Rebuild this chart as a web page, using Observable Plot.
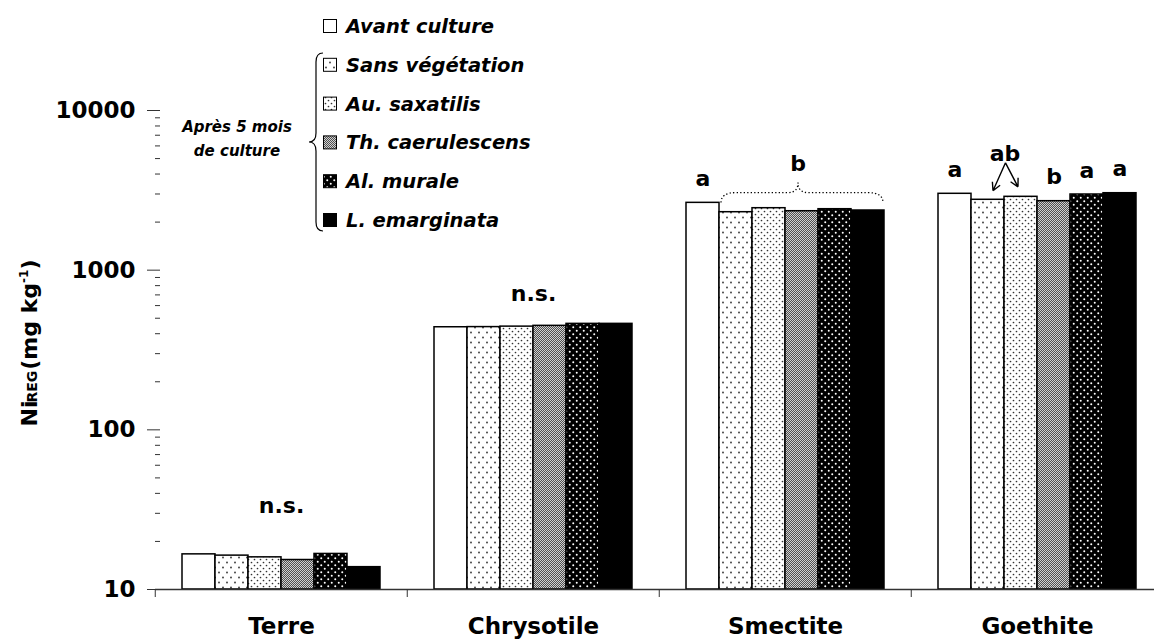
<!DOCTYPE html>
<html>
<head>
<meta charset="utf-8">
<script src="https://cdn.jsdelivr.net/npm/d3@7"></script>
<script src="https://cdn.jsdelivr.net/npm/@observablehq/plot@0.6"></script>
<style>
  html, body { margin: 0; padding: 0; background: #fff; }
  #wrap { position: relative; width: 1154px; height: 641px; }
  #wrap svg.overlay { position: absolute; left: 0; top: 0; pointer-events: none; }
</style>
</head>
<body>
<div id="wrap"></div>
<script>
// ---------------- data ----------------
const categories = ["Terre", "Chrysotile", "Smectite", "Goethite"];
const series = ["Avant culture", "Sans végétation", "Au. saxatilis", "Th. caerulescens", "Al. murale", "L. emarginata"];
const terre      = [16.6, 16.3, 15.9, 15.3, 16.7, 13.8];
const chrysotile = [439, 440, 443, 448, 461, 461];
const smectite   = [2640, 2307, 2444, 2340, 2409, 2364];
const goethite   = [3008, 2759, 2880, 2704, 2978, 3034];
const yMajorTicks = [10, 100, 1000, 10000];
const yLabelMain = "Ni", yLabelSub = "REG", yLabelUnit = "(mg kg", yLabelExp = "-1";
const legendGroupLabel = ["Après 5 mois", "de culture"];

// statistical letters on top of bars
const letters = [
  {cat: "Smectite", series: "Avant culture", label: "a"},
  {cat: "Goethite", series: "Avant culture", label: "a"},
  {cat: "Goethite", series: "Th. caerulescens", label: "b"},
  {cat: "Goethite", series: "Al. murale", label: "a"},
  {cat: "Goethite", series: "L. emarginata", label: "a"}
];
const nsNotes = [
  {cat: "Terre", y: 33.6, label: "n.s."},
  {cat: "Chrysotile", y: 714, label: "n.s."}
];
const braceNotes = [
  {cat: "Smectite", from: "Sans végétation", to: "L. emarginata", over: "Th. caerulescens", y: 3060, label: "b"}
];
const arrowNotes = [
  {cat: "Goethite", from: "Sans végétation", to: "Au. saxatilis", label: "ab"}
];

// ---------------- build table ----------------
const valuesByCat = {Terre: terre, Chrysotile: chrysotile, Smectite: smectite, Goethite: goethite};
const fills = ["white", "url(#pat1)", "url(#pat2)", "url(#pat3)", "url(#pat4)", "black"];
const rows = [];
for (const c of categories) series.forEach((s, i) => rows.push({cat: c, series: s, value: valuesByCat[c][i], fill: fills[i]}));
const valueOf = (c, s) => valuesByCat[c][series.indexOf(s)];
const minorTicks = [];
for (const d of [10, 100, 1000]) for (let k = 2; k <= 9; k++) minorTicks.push(d * k);

// ---------------- layout ----------------
const W = 1154, H = 641, ML = 154, MR = -10, MT = 110, MB = 52;
const fw = (W - ML - MR) / categories.length;
const FONT = "'DejaVu Sans', 'Liberation Sans', sans-serif";

// pattern defs (hidden svg)
const wrap = document.getElementById("wrap");
const defsSvg = d3.select(wrap).append("svg").attr("class", "overlay").attr("width", 0).attr("height", 0);
const defs = defsSvg.append("defs");
function pat(id, w, h) {
  return defs.append("pattern").attr("id", id).attr("patternUnits", "userSpaceOnUse").attr("width", w).attr("height", h);
}
{ const p = pat("pat1", 8, 10);
  p.append("rect").attr("width", 8).attr("height", 10).attr("fill", "white");
  p.append("circle").attr("cx", 2).attr("cy", 2.5).attr("r", 0.9).attr("fill", "#333");
  p.append("circle").attr("cx", 6).attr("cy", 7.5).attr("r", 0.9).attr("fill", "#333"); }
{ const p = pat("pat2", 6, 6);
  p.append("rect").attr("width", 6).attr("height", 6).attr("fill", "white");
  p.append("circle").attr("cx", 1.5).attr("cy", 1.5).attr("r", 0.85).attr("fill", "#333");
  p.append("circle").attr("cx", 4.5).attr("cy", 4.5).attr("r", 0.85).attr("fill", "#333"); }
{ const p = pat("pat3", 2, 2);
  p.append("rect").attr("width", 2).attr("height", 2).attr("fill", "#d0d0d0");
  p.append("rect").attr("x", 0).attr("y", 0).attr("width", 1).attr("height", 1).attr("fill", "#505050");
  p.append("rect").attr("x", 1).attr("y", 1).attr("width", 1).attr("height", 1).attr("fill", "#505050"); }
{ const p = pat("pat4", 7, 7);
  p.append("rect").attr("width", 7).attr("height", 7).attr("fill", "black");
  p.append("circle").attr("cx", 1.75).attr("cy", 1.75).attr("r", 1).attr("fill", "white");
  p.append("circle").attr("cx", 5.25).attr("cy", 5.25).attr("r", 1).attr("fill", "white"); }

// custom curve: curly brace between two points
function braceCurve(context) {
  let pts = [];
  return {
    areaStart() {}, areaEnd() {},
    lineStart() { pts = []; },
    point(x, y) { pts.push([+x, +y]); },
    lineEnd() {
      if (pts.length < 2) return;
      const [[x0, y], [x1]] = pts;
      const e = 15, d = 10, w = 10, p = 10, xm = (x0 + x1) / 2 - 4;
      context.moveTo(x0 - e, y + d);
      context.quadraticCurveTo(x0 - e, y, x0, y);
      context.lineTo(xm - w, y);
      context.quadraticCurveTo(xm, y, xm, y - p);
      context.quadraticCurveTo(xm, y, xm + w, y);
      context.lineTo(x1, y);
      context.quadraticCurveTo(x1 + e, y, x1 + e, y + d);
    }
  };
}
// custom curve: two arrows diverging from a common apex down to two points
function forkArrowCurve(context) {
  let pts = [];
  return {
    areaStart() {}, areaEnd() {},
    lineStart() { pts = []; },
    point(x, y) { pts.push([+x, +y]); },
    lineEnd() {
      if (pts.length < 2) return;
      const [[x0, y0], [x1, y1]] = pts;
      const t0 = [x0 + 5, y0 - 9], t1 = [x1 - 3, y1 - 10];
      const apex = [(x0 + x1) / 2 + 1, Math.min(t0[1], t1[1]) - 24];
      for (const t of [t0, t1]) {
        context.moveTo(apex[0], apex[1]);
        context.lineTo(t[0], t[1]);
        const dx = t[0] - apex[0], dy = t[1] - apex[1], L = Math.hypot(dx, dy);
        const ux = dx / L, uy = dy / L, hl = 9, a = 28 * Math.PI / 180;
        for (const s of [1, -1]) {
          const rx = ux * Math.cos(s * a) - uy * Math.sin(s * a);
          const ry = ux * Math.sin(s * a) + uy * Math.cos(s * a);
          context.moveTo(t[0], t[1]);
          context.lineTo(t[0] - rx * hl, t[1] - ry * hl);
        }
      }
    }
  };
}

const arrowRows = arrowNotes.map(a => ({...a, y1: valueOf(a.cat, a.from), y2: valueOf(a.cat, a.to)}));
const letterRows = letters.map(l => ({...l, y: valueOf(l.cat, l.series)}));

const chart = Plot.plot({
  width: W, height: H,
  marginLeft: ML, marginRight: MR, marginTop: MT, marginBottom: MB,
  style: {fontFamily: FONT, fontWeight: "bold", color: "black", background: "transparent", overflow: "visible"},
  fx: {domain: categories, padding: 0, label: null},
  x: {domain: series, paddingInner: 0, paddingOuter: 0.73, axis: null},
  y: {type: "log", domain: [10, 10000], axis: null},
  color: {type: "identity"},
  marks: [
    Plot.barY(rows, {fx: "cat", x: "series", y1: yMajorTicks[0], y2: "value", fill: "fill", stroke: "black", strokeWidth: 1.5}),
    Plot.ruleY([yMajorTicks[0]], {stroke: "#333", strokeWidth: 1.3}),
    Plot.axisY({ticks: yMajorTicks, tickFormat: d => String(d), tickSize: 8, tickPadding: 12, fontSize: 23, label: null, line: true, stroke: "#333"}),
    Plot.axisY({ticks: yMajorTicks.concat(minorTicks), tickFormat: () => "", tickSize: 5, dx: 5, label: null, stroke: "#333"}),
    Plot.axisFx({anchor: "bottom", tickSize: 8, dx: -fw / 2, tickFormat: () => "", label: null, stroke: "#333"}),
    Plot.axisFx({anchor: "bottom", tickSize: 0, tickPadding: 28, fontSize: 23, label: null}),
    Plot.text(letterRows, {fx: "cat", x: "series", y: "y", text: "label", dy: -24, fontSize: 22, fill: "black"}),
    Plot.text(nsNotes, {fx: "cat", y: "y", text: "label", fontSize: 22, fill: "black"}),
    Plot.link(braceNotes, {fx: "cat", x1: "from", x2: "to", y1: "y", y2: "y", curve: braceCurve, stroke: "black", strokeWidth: 1.3, strokeDasharray: "1.3,2.2"}),
    Plot.text(braceNotes, {fx: "cat", x: "over", y: "y", text: "label", dx: -4, dy: -29, fontSize: 22, fill: "black"}),
    Plot.link(arrowRows, {fx: "cat", x1: "from", x2: "to", y1: "y1", y2: "y2", curve: forkArrowCurve, stroke: "black", strokeWidth: 1.4}),
    Plot.text(arrowRows, {fx: "cat", x: "from", y: "y2", text: "label", dx: 17, dy: -43, fontSize: 22, fill: "black"})
  ]
});
wrap.appendChild(chart);

// ---------------- overlay: legend and y label ----------------
const ov = d3.select(wrap).append("svg").attr("class", "overlay")
  .attr("width", W).attr("height", H)
  .style("font-family", FONT).style("font-weight", "bold");

// y-axis title
const yt = ov.append("text").attr("transform", "translate(37,343) rotate(-90)")
  .attr("text-anchor", "middle").attr("fill", "black");
yt.append("tspan").attr("font-size", 22).text(yLabelMain);
yt.append("tspan").attr("font-size", 14).attr("dx", -2).text(yLabelSub);
yt.append("tspan").attr("font-size", 22).attr("dx", 1).text(yLabelUnit);
yt.append("tspan").attr("font-size", 12).attr("dy", -9).text(yLabelExp);
yt.append("tspan").attr("font-size", 22).attr("dy", 9).text(")");

// legend
const lg = ov.append("g");
const rowY = i => 26 + i * 38.8;
series.forEach((s, i) => {
  lg.append("rect").attr("x", 323.5).attr("y", rowY(i) - 6.5).attr("width", 13).attr("height", 13)
    .attr("fill", fills[i]).attr("stroke", "black").attr("stroke-width", 1);
  lg.append("text").attr("x", 346).attr("y", rowY(i)).attr("dy", "0.36em")
    .attr("font-size", 19.5).attr("font-style", "italic").attr("fill", "black").text(s);
});
lg.append("path")
  .attr("d", "M323,53 Q316,53 316,62 L316,133 Q316,142 309,142 Q316,142 316,151 L316,222 Q316,231 323,231")
  .attr("fill", "none").attr("stroke", "black").attr("stroke-width", 1.2);
legendGroupLabel.forEach((t, i) => {
  lg.append("text").attr("x", 237).attr("y", 127 + i * 23.5).attr("dy", "0.36em")
    .attr("text-anchor", "middle").attr("font-size", 15).attr("font-style", "italic").attr("fill", "black").text(t);
});
</script>
</body>
</html>
